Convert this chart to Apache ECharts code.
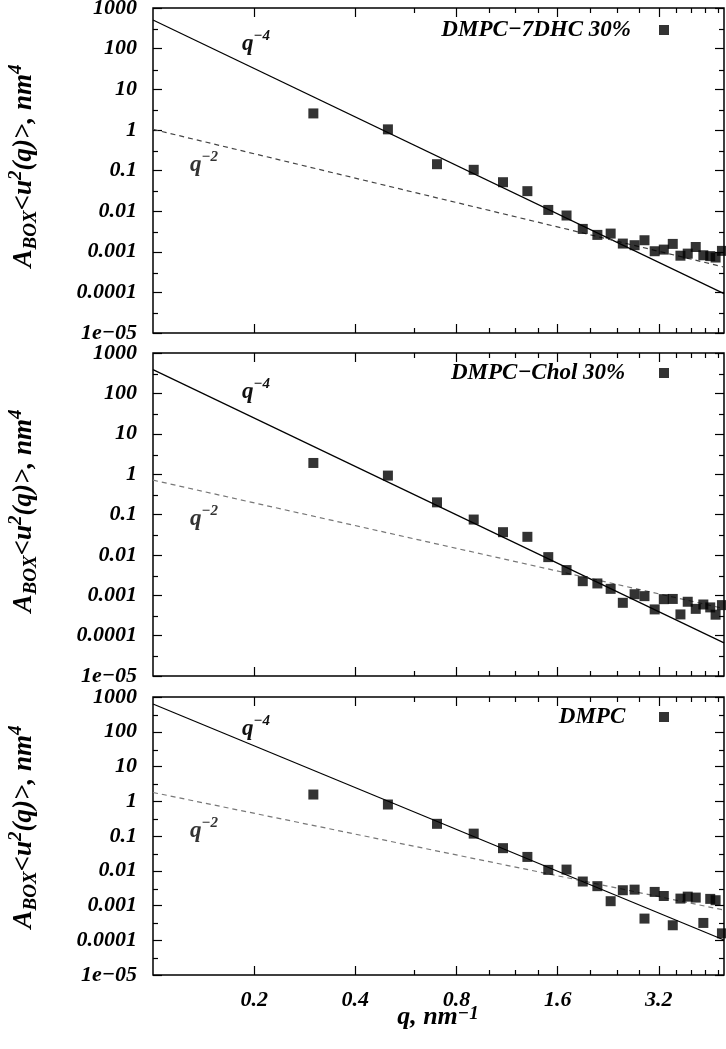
<!DOCTYPE html>
<html>
<head>
<meta charset="utf-8">
<script src="https://cdn.jsdelivr.net/npm/echarts@6/dist/echarts.min.js"></script>
<style>
  html, body { margin: 0; padding: 0; background: #fff; }
  #chart { width: 726px; height: 1049px; }
</style>
</head>
<body>
<div id="chart"></div>
<script>
// q values, nm^-1 (same set in all three panels)
const qValues = [0.30, 0.50, 0.70, 0.90, 1.10, 1.30, 1.50, 1.70, 1.90, 2.10, 2.30, 2.50,
  2.71, 2.90, 3.11, 3.31, 3.52, 3.71, 3.90, 4.12, 4.34, 4.55, 4.72, 4.93];

// A_BOX <u^2(q)>, nm^4
const u2Dhc = [2.54, 1.03, 0.143, 0.104, 0.0515, 0.031, 0.0107, 0.0078, 0.00365, 0.0026, 0.0028, 0.00159,
  0.00145, 0.00192, 0.00103, 0.00113, 0.00156, 0.0008, 0.0009, 0.00131, 0.00082, 0.00078, 0.00072, 0.00105];
const u2Chol = [1.89, 0.92, 0.20, 0.075, 0.0365, 0.028, 0.0088, 0.0042, 0.00223, 0.00196, 0.00144, 0.00065,
  0.00106, 0.00095, 0.000446, 0.0008, 0.00081, 0.000335, 0.00069, 0.00046, 0.00059, 0.0005, 0.00033, 0.00057];
const u2Dmpc = [1.56, 0.805, 0.224, 0.117, 0.0447, 0.025, 0.0106, 0.0108, 0.0049, 0.0036, 0.00133, 0.00275,
  0.00286, 0.00042, 0.00246, 0.00188, 0.00027, 0.00158, 0.0018, 0.00169, 0.000315, 0.00155, 0.00142, 0.000158];

// guide lines q^-4 and q^-2, end points
const fitQ = [0.1, 5.0];
const fit4Dhc = [506, 9.3e-5];
const fit2Dhc = [1.03, 4.2e-4];
const fit4Chol = [388, 6.6e-5];
const fit2Chol = [0.71, 4.7e-4];
const fit4Dmpc = [628, 1.02e-4];
const fit2Dmpc = [1.79, 7.4e-4];

const panelNames = ['DMPC\u22127DHC 30%', 'DMPC\u2212Chol 30%', 'DMPC'];

const xTickValues = [0.2, 0.4, 0.8, 1.6, 3.2];
const xMinorTicks = [0.6, 1.0, 1.2, 1.4, 2.0, 2.4, 2.8, 3.6, 4.0, 4.4, 4.8];
const yTickValues = [1e-5, 1e-4, 1e-3, 0.01, 0.1, 1, 10, 100, 1000];
const yTickLabels = ['1e\u221205', '0.0001', '0.001', '0.01', '0.1', '1', '10', '100', '1000'];
const yMinorTicks = [3e-5, 3e-4, 3e-3, 0.03, 0.3, 3, 30, 300];

const X_MIN = 0.1, X_MAX = 5.0, Y_MIN = 1e-5, Y_MAX = 1000;
const FONT = 'Liberation Serif';
const lg = Math.log10;

const panels = [
  { data: u2Dhc, fit4: fit4Dhc, fit2: fit2Dhc, top: 8, height: 325, legendTop: 18, dashColor: '#444', titleY: 166 },
  { data: u2Chol, fit4: fit4Chol, fit2: fit2Chol, top: 353, height: 323, legendTop: 361, dashColor: '#777', titleY: 511 },
  { data: u2Dmpc, fit4: fit4Dmpc, fit2: fit2Dmpc, top: 697, height: 278, legendTop: 705, dashColor: '#777', titleY: 827 },
];

const labelFont = { fontFamily: FONT, fontWeight: 'bold', fontStyle: 'italic', fontSize: 22, color: '#000' };

function pickLabel(vals, labels) {
  return function (v) {
    for (let i = 0; i < vals.length; i++) {
      if (Math.abs(lg(vals[i]) - v) < 1e-6) return labels[i];
    }
    return '';
  };
}

// axis laid over the log axis (log10 space) that draws inward ticks and, optionally, labels
function tickAxis(dim, g, pos, vals, len, labels, margin) {
  const lo = dim === 'x' ? X_MIN : Y_MIN;
  const hi = dim === 'x' ? X_MAX : Y_MAX;
  return {
    type: 'value', gridIndex: g, position: pos, min: lg(lo), max: lg(hi),
    axisLine: { show: false, onZero: false },
    axisTick: { show: true, inside: true, length: len, customValues: vals.map(lg),
      lineStyle: { color: '#000', width: 1.2 } },
    axisLabel: labels ? Object.assign({
      show: true, margin: margin, customValues: vals.map(lg), formatter: pickLabel(vals, labels),
    }, labelFont) : { show: false },
    splitLine: { show: false },
    axisPointer: { show: false },
  };
}

const grids = [], xAxes = [], yAxes = [], series = [], legends = [], graphics = [];

panels.forEach((p, g) => {
  grids.push({
    left: 153, right: 2, top: p.top, height: p.height, outerBoundsMode: 'none',
    show: true, borderColor: '#000', borderWidth: 1.5, backgroundColor: 'transparent',
  });

  const xi = xAxes.length;
  xAxes.push({ type: 'log', logBase: 10, gridIndex: g, min: X_MIN, max: X_MAX, show: false });
  xAxes.push(tickAxis('x', g, 'bottom', xTickValues, 9, g === 2 ? xTickValues.map(String) : null, 14));
  xAxes.push(tickAxis('x', g, 'bottom', xMinorTicks, 5));
  xAxes.push(tickAxis('x', g, 'top', xTickValues, 9));
  xAxes.push(tickAxis('x', g, 'top', xMinorTicks, 5));

  const yi = yAxes.length;
  yAxes.push({ type: 'log', logBase: 10, gridIndex: g, min: Y_MIN, max: Y_MAX, show: false });
  yAxes.push(tickAxis('y', g, 'left', yTickValues, 9, yTickLabels, 16));
  yAxes.push(tickAxis('y', g, 'left', yMinorTicks, 5));
  yAxes.push(tickAxis('y', g, 'right', yTickValues, 9));
  yAxes.push(tickAxis('y', g, 'right', yMinorTicks, 5));

  series.push({
    type: 'line', xAxisIndex: xi, yAxisIndex: yi, silent: true, showSymbol: false, z: 2,
    data: fitQ.map((q, i) => [q, p.fit4[i]]),
    lineStyle: { color: '#000', width: 1.2 },
  });
  series.push({
    type: 'line', xAxisIndex: xi, yAxisIndex: yi, silent: true, showSymbol: false, z: 2,
    data: fitQ.map((q, i) => [q, p.fit2[i]]),
    lineStyle: { color: p.dashColor, width: 1.2, type: [5, 4] },
  });
  series.push({
    name: panelNames[g], type: 'scatter', xAxisIndex: xi, yAxisIndex: yi, z: 5,
    symbol: 'rect', symbolSize: 10, itemStyle: { color: '#000' },
    data: qValues.map((q, i) => [q, p.data[i]]),
  });

  legends.push({
    data: [panelNames[g]], right: 57, top: p.legendTop, padding: 0, align: 'right',
    icon: 'rect', itemWidth: 10, itemHeight: 10, selectedMode: false,
    formatter: n => n + (g === 0 ? '    ' : '     '),
    textStyle: Object.assign({}, labelFont, { fontSize: 23, lineHeight: 24 }),
    itemStyle: { color: '#000' },
  });
});

// rich text styles for titles and power-law tags
function richSet(main, small) {
  const base = { fontFamily: FONT, fontWeight: 'bold', fontStyle: 'italic', fill: '#000' };
  return {
    m: Object.assign({ fontSize: main, lineHeight: main + 7, verticalAlign: 'middle' }, base),
    sub: Object.assign({ fontSize: small, lineHeight: small, verticalAlign: 'bottom' }, base),
    sup: Object.assign({ fontSize: small, lineHeight: small, verticalAlign: 'top' }, base),
  };
}

const yTitle = '{m|A}{sub|BOX}{m|<u}{sup|2}{m|(q)>, nm}{sup|4}';
panels.forEach(p => {
  graphics.push({
    type: 'text', x: 24, y: p.titleY, rotation: Math.PI / 2, silent: true,
    style: { text: yTitle, rich: richSet(27, 19), fill: '#000', align: 'center', verticalAlign: 'middle' },
  });
});
// x title: exponent only slightly raised, as in the original
const xTitleRich = richSet(26, 19);
xTitleRich.sup.verticalAlign = 'middle';
xTitleRich.sup.padding = [0, 0, 5, 0];
graphics.push({
  type: 'text', x: 438, y: 1017, silent: true,
  style: { text: '{m|q, nm}{sup|\u22121}', rich: xTitleRich, fill: '#000', align: 'center', verticalAlign: 'middle' },
});

// q^-4 / q^-2 tags: [left x, baseline y, exponent, colour]
const tags = [
  [242, 52, '\u22124', '#111'], [190, 173, '\u22122', '#333'],
  [242, 400, '\u22124', '#111'], [190, 527, '\u22122', '#333'],
  [242, 737, '\u22124', '#111'], [190, 839, '\u22122', '#333'],
];
tags.forEach(t => {
  const rich = richSet(23, 15);
  rich.m.fill = t[3];
  rich.sup.fill = t[3];
  graphics.push({
    type: 'text', x: t[0], y: t[1] - 8, silent: true,
    style: { text: '{m|q}{sup|' + t[2] + '}', rich: rich, fill: t[3], align: 'left', verticalAlign: 'middle' },
  });
});

const chart = echarts.init(document.getElementById('chart'));
chart.setOption({
  backgroundColor: '#fff',
  animation: false,
  grid: grids,
  xAxis: xAxes,
  yAxis: yAxes,
  legend: legends,
  series: series,
  graphic: graphics,
});
</script>
</body>
</html>
